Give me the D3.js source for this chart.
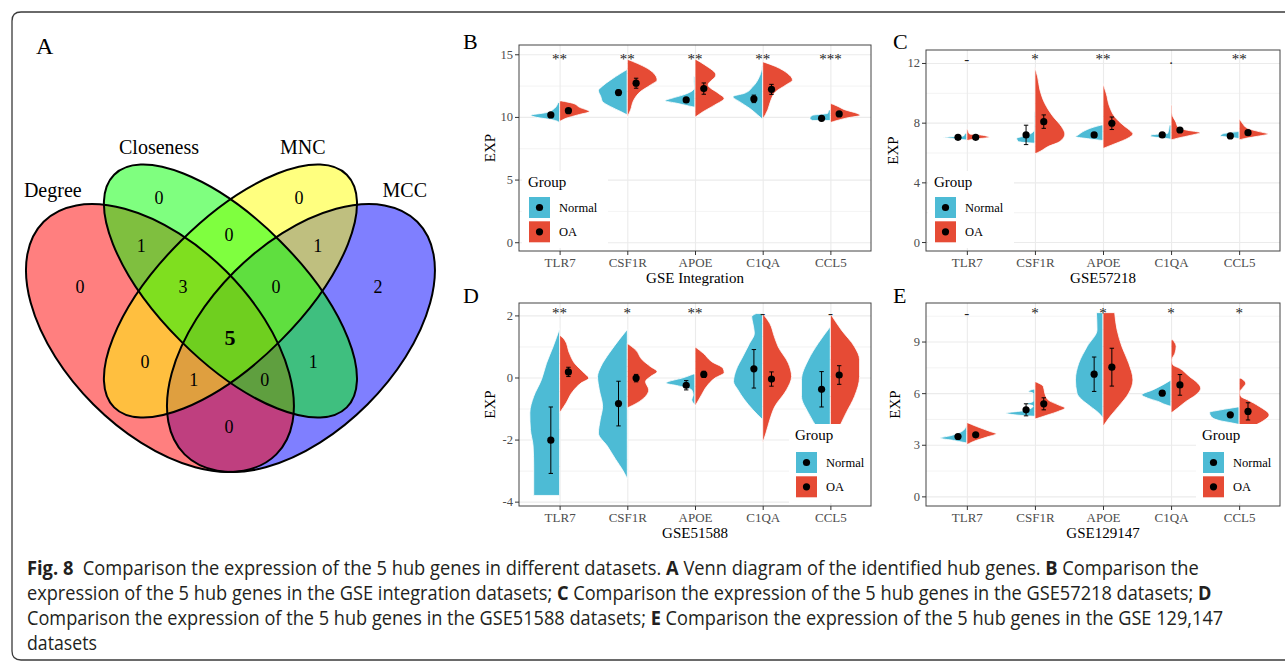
<!DOCTYPE html>
<html>
  <head>
    <meta charset="utf-8" />
    <title>Fig 8</title>
    <script src="https://cdn.jsdelivr.net/npm/d3@7/dist/d3.min.js"></script>
    <style>
      body { margin: 0; background: #fff; }
    </style>
  </head>
  <body>
    <div id="canvas"></div>
  </body>
  <script>
    const genes = ["TLR7", "CSF1R", "APOE", "C1QA", "CCL5"];
    const groups = ["Normal", "OA"];
    const groupColors = ["#4DBBD5", "#E64B35"];

    // ---- panel B : GSE Integration ----
    const bSig = ["**", "**", "**", "**", "***"];
    const bMeanN = [10.16, 11.94, 11.36, 11.44, 9.89];
    const bMeanO = [10.5, 12.69, 12.26, 12.2, 10.24];
    const bErrN = [0.08, 0.2, 0.15, 0.3, 0.05];
    const bErrO = [0.1, 0.4, 0.45, 0.4, 0.08];
    // half violin profiles: [EXP value, relative density]
    const bDensN = [
      [[11.14,0.06],[10.69,0.17],[10.35,0.44],[10.13,0.97],[9.97,0.78],[9.76,0.22],[9.55,0]],
      [[13.8,0],[13.48,0.22],[12.95,0.56],[12.47,0.83],[12.1,0.97],[11.62,0.89],[11.22,0.83],[10.82,0.56],[10.43,0.22],[10.16,0]],
      [[13.22,0.04],[12.82,0.04],[12.29,0.03],[12.15,0.06],[11.76,0.39],[11.49,0.78],[11.3,1.0],[11.09,0.61],[10.88,0.22],[10.77,0]],
      [[14.15,0.02],[13.22,0.11],[12.42,0.33],[11.89,0.61],[11.62,1.0],[11.22,0.78],[10.69,0.44],[10.16,0.17],[9.81,0]],
      [[10.56,0.06],[10.29,0.09],[10.13,0.6],[9.89,0.69],[9.71,0.6]]
    ];
    const bDensO = [
      [[11.28,0.06],[11.09,0.44],[10.77,0.67],[10.43,1.0],[10.16,0.61],[9.89,0.22],[9.63,0]],
      [[14.6,0],[14.28,0.33],[13.88,0.67],[13.48,0.89],[12.95,1.0],[12.55,0.78],[12.02,0.44],[11.36,0.22],[10.56,0.11],[9.97,0]],
      [[14.63,0],[14.15,0.33],[13.35,0.7],[12.55,0.44],[11.89,0.78],[11.49,0.98],[10.96,0.67],[10.43,0.28],[9.97,0]],
      [[14.41,0],[14.02,0.44],[13.48,0.83],[12.95,1.0],[12.55,0.78],[12.02,0.44],[11.36,0.28],[10.56,0.17],[9.81,0]],
      [[11.09,0],[10.88,0.22],[10.56,0.5],[10.29,0.89],[10.13,1.0],[9.92,0.56],[9.71,0.22],[9.55,0]]
    ];

    // ---- panel C : GSE57218 ----
    const cSig = ["-", "*", "**", ".", "**"];
    const cMeanN = [7.02, 7.18, 7.18, 7.18, 7.11];
    const cMeanO = [7.02, 8.07, 7.96, 7.51, 7.33];
    const cErrN = [0.05, 0.65, 0.15, 0.12, 0.05];
    const cErrO = [0.05, 0.45, 0.42, 0.1, 0.06];
    const cDensN = [
      [[7.29,0.06],[7.11,0.11],[7.02,0.78],[6.93,0.44],[6.84,0]],
      [[8.73,0.03],[7.51,0.03],[7.11,0.33],[6.96,0.61],[6.73,0.56],[6.62,0]],
      [[7.84,0.06],[7.69,0.33],[7.4,0.67],[7.18,0.83],[7.07,0.92],[6.91,0.44],[6.8,0]],
      [[7.84,0.06],[7.29,0.11],[7.18,0.67],[7.07,0.68],[6.96,0.22],[6.89,0]],
      [[7.4,0.06],[7.24,0.56],[7.11,0.63],[7.0,0.22],[6.93,0]]
    ];
    const cDensO = [
      [[7.56,0.03],[7.24,0.09],[7.18,0.45],[7.02,0.75],[6.89,0.22],[6.8,0]],
      [[11.69,0],[11.07,0.09],[10.18,0.17],[9.29,0.33],[8.4,0.61],[7.73,0.89],[7.24,1.0],[6.73,0.83],[6.4,0.44],[6.07,0.17],[5.91,0]],
      [[10.62,0],[9.96,0.11],[9.07,0.22],[8.4,0.39],[7.84,0.67],[7.4,0.94],[7.24,1.0],[6.96,0.83],[6.62,0.44],[6.36,0.11],[6.27,0]],
      [[9.18,0.03],[8.62,0.03],[8.0,0.17],[7.73,0.22],[7.51,0.5],[7.33,0.97],[7.16,0.67],[6.96,0.22],[6.84,0]],
      [[8.29,0],[7.96,0.11],[7.62,0.28],[7.4,0.67],[7.24,0.96],[7.07,0.56],[6.93,0.17],[6.84,0]]
    ];

    // ---- panel D : GSE51588 ----
    const dSig = ["**", "*", "**", "-", "-"];
    const dMeanN = [-2.02, -0.84, -0.25, 0.28, -0.38];
    const dMeanO = [0.18, -0.02, 0.1, -0.05, 0.08];
    const dErrN = [1.07, 0.72, 0.15, 0.62, 0.57];
    const dErrO = [0.15, 0.12, 0.1, 0.23, 0.3];
    const dDensN = [
      [[1.58,0],[0.99,0.22],[0.46,0.44],[-0.07,0.61],[-0.61,0.87],[-1.14,1.0],[-1.68,0.98],[-2.21,0.89],[-2.86,0.87],[-3.8,0.87]],
      [[1.55,0],[1.21,0.28],[0.78,0.61],[0.35,0.89],[0.03,1.0],[-0.4,0.94],[-0.93,0.83],[-1.36,0.91],[-1.79,0.97],[-2.21,0.67],[-2.64,0.39],[-2.96,0.17],[-3.26,0]],
      [[0.11,0.06],[-0.02,0.44],[-0.13,0.89],[-0.18,0.98],[-0.27,0.56],[-0.4,0.11],[-0.56,0.06],[-0.72,0.11],[-0.88,0]],
      [[2.06,0.22],[1.96,0.37],[1.74,0.33],[1.42,0.28],[1.1,0.44],[0.67,0.67],[0.25,0.89],[-0.13,0.98],[-0.4,0.83],[-0.72,0.61],[-1.04,0.33],[-1.36,0]],
      [[1.64,0],[1.1,0.41],[0.57,0.74],[-0.07,0.97],[-0.61,0.97],[-1.14,0.74],[-1.68,0.41],[-2.11,0.13],[-2.3,0]]
    ];
    const dDensO = [
      [[1.37,0],[1.21,0.17],[0.78,0.33],[0.46,0.5],[0.14,0.83],[-0.02,0.98],[-0.18,0.72],[-0.45,0.44],[-0.82,0.22],[-1.14,0]],
      [[1.1,0],[0.89,0.28],[0.57,0.5],[0.35,0.78],[0.19,1.0],[0.03,0.78],[-0.13,0.61],[-0.4,0.72],[-0.61,0.61],[-0.82,0.33],[-0.98,0]],
      [[0.99,0],[0.78,0.28],[0.51,0.56],[0.3,0.94],[0.16,0.98],[-0.02,0.67],[-0.29,0.39],[-0.56,0.22],[-0.93,0]],
      [[2.06,0],[1.74,0.24],[1.32,0.39],[0.99,0.52],[0.46,0.86],[0.03,0.97],[-0.4,0.8],[-0.93,0.41],[-1.36,0.24],[-1.79,0.11],[-2.11,0]],
      [[2.06,0],[1.53,0.37],[0.99,0.81],[0.57,0.98],[0.03,0.98],[-0.61,0.81],[-1.14,0.53],[-1.68,0.26],[-2.27,0]]
    ];

    // ---- panel E : GSE129147 ----
    const eSig = ["-", "*", "*", "*", "*"];
    const eMeanN = [3.48, 5.03, 7.1, 6.0, 4.74];
    const eMeanO = [3.58, 5.38, 7.51, 6.48, 4.94];
    const eErrN = [0.05, 0.35, 1.0, 0.15, 0.07];
    const eErrO = [0.07, 0.35, 1.1, 0.6, 0.5];
    const eDensN = [
      [[4.06,0.03],[3.77,0.17],[3.52,0.56],[3.39,0.89],[3.25,0.44],[3.1,0]],
      [[6.23,0.06],[6.1,0.22],[6.0,0.06],[5.52,0.06],[5.38,0.28],[5.26,0.06],[4.99,0.33],[4.84,0.97],[4.74,0.67],[4.65,0]],
      [[10.68,0.22],[9.68,0.2],[8.71,0.53],[7.74,0.81],[6.77,0.92],[6.0,0.87],[5.61,0.7],[5.23,0.42],[4.84,0.14],[4.55,0]],
      [[6.77,0],[6.48,0.28],[6.19,0.61],[5.9,0.98],[5.71,0.78],[5.52,0.44],[5.32,0.17],[5.23,0]],
      [[5.19,0.06],[5.03,0.61],[4.88,0.99],[4.65,0.94],[4.41,0.67],[4.26,0.22],[4.18,0]]
    ];
    const eDensO = [
      [[4.3,0],[4.06,0.33],[3.77,0.78],[3.64,0.98],[3.45,0.67],[3.19,0.22],[3.0,0]],
      [[6.68,0],[6.39,0.28],[6.0,0.33],[5.61,0.44],[5.32,0.78],[5.13,1.0],[4.94,0.78],[4.74,0.44],[4.49,0]],
      [[10.68,0.39],[9.68,0.47],[8.71,0.63],[7.74,0.86],[6.77,1.0],[6.0,0.86],[5.23,0.52],[4.65,0.24],[4.06,0]],
      [[9.1,0.06],[8.71,0.17],[8.32,0.13],[7.94,0.03],[7.65,0.06],[7.45,0.28],[6.97,0.61],[6.58,0.89],[6.29,0.99],[5.9,0.83],[5.52,0.5],[5.13,0.22],[4.84,0]],
      [[6.87,0.06],[6.58,0.22],[6.29,0.11],[6.1,0.03],[5.81,0.06],[5.61,0.28],[5.23,0.67],[4.74,1.0],[4.36,0.78],[4.06,0.44],[3.77,0]]
    ];

    // ---- panel A : venn ----
    const vennSets = ["Degree", "Closeness", "MNC", "MCC"];
    const vennColors = ["#FF0000", "#00FF00", "#FFFF00", "#0000FF"];
    // region counts and their anchor in the unit square used by VennDiagram
    const vennCounts = [0, 0, 0, 2, 1, 0, 1, 3, 0, 5, 0, 1, 0, 1, 0];
    const vennCountPos = [
      [0.18, 0.579], [0.348, 0.768], [0.646, 0.768], [0.814, 0.579],
      [0.31, 0.666], [0.497, 0.689], [0.686, 0.666], [0.399, 0.579],
      [0.597, 0.579], [0.499, 0.472], [0.318, 0.419], [0.422, 0.381],
      [0.573, 0.381], [0.676, 0.419], [0.497, 0.281]
    ];

    const captionLines = [
      [["Fig. 8", true], ["  Comparison the expression of the 5 hub genes in different datasets. ", false], ["A", true], [" Venn diagram of the identified hub genes. ", false], ["B", true], [" Comparison the", false]],
      [["expression of the 5 hub genes in the GSE integration datasets; ", false], ["C", true], [" Comparison the expression of the 5 hub genes in the GSE57218 datasets; ", false], ["D", true]],
      [["Comparison the expression of the 5 hub genes in the GSE51588 datasets; ", false], ["E", true], [" Comparison the expression of the 5 hub genes in the GSE 129,147", false]],
      [["datasets", false]]
    ];
    const captionWidths = [1172, 1185, 1197, 70];

    const serif = "'Liberation Serif', 'Times New Roman', serif";
    const width = 1285, height = 662;

    const svg = d3.select("#canvas").append("svg")
      .attr("width", width).attr("height", height)
      .attr("viewBox", [0, 0, width, height]);
    svg.append("rect").attr("width", width).attr("height", height).attr("fill", "#fff");

    // outer frame (open on the right)
    svg.append("path")
      .attr("d", "M1290,12 H21 Q12,12 12,21 V651 Q12,660 21,660 H1290")
      .attr("fill", "none").attr("stroke", "#3a3a3a").attr("stroke-width", 1.3);

    // ---------------- Venn ----------------
    function drawVenn() {
      const s = 470;
      const vx = d3.scaleLinear().domain([0, 1]).range([26 - 0.065 * s, 26 + 0.935 * s]);
      const vy = d3.scaleLinear().domain([0, 1]).range([472 + 0.185 * s, 472 - 0.815 * s]);
      const ell = [
        { cx: 0.35, cy: 0.47, a: 0.35, b: 0.2, rot: 45 },
        { cx: 0.5, cy: 0.57, a: 0.35, b: 0.15, rot: 45 },
        { cx: 0.5, cy: 0.57, a: 0.35, b: 0.15, rot: -45 },
        { cx: 0.65, cy: 0.47, a: 0.35, b: 0.2, rot: -45 }
      ];
      const g = svg.append("g");
      const order = [3, 0, 2, 1];
      g.selectAll("ellipse.fill")
        .data(order)
        .join("ellipse")
        .attr("class", "fill")
        .attr("cx", (i) => vx(ell[i].cx))
        .attr("cy", (i) => vy(ell[i].cy))
        .attr("rx", (i) => ell[i].a * s)
        .attr("ry", (i) => ell[i].b * s)
        .attr("transform", (i) => `rotate(${ell[i].rot},${vx(ell[i].cx)},${vy(ell[i].cy)})`)
        .attr("fill", (i) => vennColors[i])
        .attr("fill-opacity", 0.5);
      g.selectAll("ellipse.line")
        .data(order)
        .join("ellipse")
        .attr("class", "line")
        .attr("cx", (i) => vx(ell[i].cx))
        .attr("cy", (i) => vy(ell[i].cy))
        .attr("rx", (i) => ell[i].a * s)
        .attr("ry", (i) => ell[i].b * s)
        .attr("transform", (i) => `rotate(${ell[i].rot},${vx(ell[i].cx)},${vy(ell[i].cy)})`)
        .attr("fill", "none")
        .attr("stroke", "#000")
        .attr("stroke-width", 2);

      g.selectAll("text.count")
        .data(vennCounts)
        .join("text")
        .attr("class", "count")
        .attr("x", (d, i) => vx(vennCountPos[i][0]))
        .attr("y", (d, i) => vy(vennCountPos[i][1]))
        .attr("dy", "0.35em")
        .attr("text-anchor", "middle")
        .attr("font-family", serif)
        .attr("font-size", (d) => (d === 5 ? 22 : 18))
        .attr("font-weight", (d) => (d === 5 ? "bold" : "normal"))
        .text((d) => d);

      const namePos = [[0.122, 0.785], [0.348, 0.876], [0.654, 0.876], [0.871, 0.785]];
      g.selectAll("text.name")
        .data(vennSets)
        .join("text")
        .attr("class", "name")
        .attr("x", (d, i) => vx(namePos[i][0]))
        .attr("y", (d, i) => vy(namePos[i][1]))
        .attr("dy", "0.35em")
        .attr("text-anchor", "middle")
        .attr("font-family", serif)
        .attr("font-size", 20)
        .text((d) => d);

      svg.append("text").attr("x", 36).attr("y", 54)
        .attr("font-family", serif).attr("font-size", 24).text("A");
    }
    drawVenn();

    // ---------------- split violin panels ----------------
    const panels = [
      { letter: "B", letterPos: [463, 49], title: "GSE Integration", left: 519, right: 871, top: 45, bottom: 251,
        domain: [-0.7, 15.74], ticks: [0, 5, 10, 15], minor: [2.5, 7.5, 12.5],
        sig: bSig, meanN: bMeanN, meanO: bMeanO, errN: bErrN, errO: bErrO, densN: bDensN, densO: bDensO,
        expX: 490, sigY: 64, legend: { x: 529, titleY: 187, keyTop: 197 } },
      { letter: "C", letterPos: [893, 49], title: "GSE57218", left: 926, right: 1280, top: 50, bottom: 251,
        domain: [-0.6, 12.87], ticks: [0, 4, 8, 12], minor: [2, 6, 10],
        sig: cSig, meanN: cMeanN, meanO: cMeanO, errN: cErrN, errO: cErrO, densN: cDensN, densO: cDensO,
        expX: 893, sigY: 64, legend: { x: 935, titleY: 187, keyTop: 197 } },
      { letter: "D", letterPos: [463, 303], title: "GSE51588", left: 519, right: 871, top: 303, bottom: 506,
        domain: [-4.14, 2.4], ticks: [-4, -2, 0, 2], minor: [-3, -1, 1],
        sig: dSig, meanN: dMeanN, meanO: dMeanO, errN: dErrN, errO: dErrO, densN: dDensN, densO: dDensO,
        expX: 490, sigY: 318, legend: { x: 796, titleY: 440, keyTop: 452 } },
      { letter: "E", letterPos: [893, 303], title: "GSE129147", left: 926, right: 1280, top: 303, bottom: 506,
        domain: [-0.56, 11.24], ticks: [0, 3, 6, 9], minor: [1.5, 4.5, 7.5, 10.5],
        sig: eSig, meanN: eMeanN, meanO: eMeanO, errN: eErrN, errO: eErrO, densN: eDensN, densO: eDensO,
        expX: 895, sigY: 318, legend: { x: 1203, titleY: 440, keyTop: 452 } }
    ];

    function drawPanel(p) {
      const g = svg.append("g");
      const x = d3.scalePoint().domain(genes).range([p.left, p.right]).padding(0.6);
      const y = d3.scaleLinear().domain(p.domain).range([p.bottom, p.top]);
      const step = x.step();
      const halfW = 0.44 * step;
      const dodge = 0.13 * step;
      const w = p.right - p.left, h = p.bottom - p.top;

      g.append("rect").attr("x", p.left).attr("y", p.top).attr("width", w).attr("height", h).attr("fill", "#fff");

      // grid
      const gridStyle = (sel, sw) => {
        sel.select(".domain").remove();
        sel.selectAll("line").attr("stroke", "#EBEBEB").attr("stroke-width", sw);
      };
      g.append("g").attr("transform", `translate(${p.left},0)`)
        .call(d3.axisLeft(y).tickValues(p.minor).tickSize(-w).tickFormat(""))
        .call((a) => gridStyle(a, 0.6));
      g.append("g").attr("transform", `translate(${p.left},0)`)
        .call(d3.axisLeft(y).tickValues(p.ticks).tickSize(-w).tickFormat(""))
        .call((a) => gridStyle(a, 1.1));
      g.append("g").attr("transform", `translate(0,${p.bottom})`)
        .call(d3.axisBottom(x).tickSize(-h).tickFormat(""))
        .call((a) => gridStyle(a, 1.1));

      // half violins
      const halves = [
        { dens: p.densN, side: -1, color: groupColors[0] },
        { dens: p.densO, side: 1, color: groupColors[1] }
      ];
      halves.forEach((hv) => {
        g.append("g")
          .selectAll("path")
          .data(hv.dens)
          .join("path")
          .attr("d", (prof, i) => {
            const cx = x(genes[i]);
            return d3.area()
              .curve(d3.curveMonotoneY)
              .y((d) => y(d[0]))
              .x0(cx)
              .x1((d) => cx + hv.side * d[1] * halfW)(prof);
          })
          .attr("fill", hv.color)
          .attr("stroke", "#fff")
          .attr("stroke-width", 0.8);
      });

      // mean +/- error
      const stats = [
        { mean: p.meanN, err: p.errN, off: -dodge },
        { mean: p.meanO, err: p.errO, off: dodge }
      ];
      stats.forEach((st) => {
        const sg = g.append("g");
        const cxs = genes.map((gn) => x(gn) + st.off);
        sg.selectAll("line.bar").data(st.mean).join("line").attr("class", "bar")
          .attr("x1", (d, i) => cxs[i]).attr("x2", (d, i) => cxs[i])
          .attr("y1", (d, i) => y(d - st.err[i])).attr("y2", (d, i) => y(d + st.err[i]))
          .attr("stroke", "#000").attr("stroke-width", 1);
        ["-", "+"].forEach((sgn) => {
          sg.selectAll("line.cap" + (sgn === "-" ? "lo" : "hi")).data(st.mean).join("line")
            .attr("class", "cap" + (sgn === "-" ? "lo" : "hi"))
            .attr("x1", (d, i) => cxs[i] - 2.2).attr("x2", (d, i) => cxs[i] + 2.2)
            .attr("y1", (d, i) => y(sgn === "-" ? d - st.err[i] : d + st.err[i]))
            .attr("y2", (d, i) => y(sgn === "-" ? d - st.err[i] : d + st.err[i]))
            .attr("stroke", "#000").attr("stroke-width", 1);
        });
        sg.selectAll("circle").data(st.mean).join("circle")
          .attr("cx", (d, i) => cxs[i]).attr("cy", (d) => y(d)).attr("r", 3.6).attr("fill", "#000");
      });

      // significance labels
      g.append("g").selectAll("text").data(p.sig).join("text")
        .attr("x", (d, i) => x(genes[i]))
        .attr("y", p.sigY)
        .attr("text-anchor", "middle")
        .attr("font-family", serif)
        .attr("font-size", 15)
        .attr("fill", "#222")
        .text((d) => d);

      // legend (inside panel)
      const lg = g.append("g");
      const L = p.legend;
      lg.append("rect").attr("x", L.x - 7).attr("y", L.titleY - 16)
        .attr("width", 86).attr("height", L.keyTop + 48 - (L.titleY - 16) + 3).attr("fill", "#fff");
      lg.append("text").attr("x", L.x - 1).attr("y", L.titleY)
        .attr("font-family", serif).attr("font-size", 15).text("Group");
      groups.forEach((gr, i) => {
        const ky = L.keyTop + i * 24.3;
        lg.append("rect").attr("x", L.x).attr("y", ky).attr("width", 21).attr("height", 21)
          .attr("fill", groupColors[i]);
        lg.append("circle").attr("cx", L.x + 10.5).attr("cy", ky + 10.5).attr("r", 3.6).attr("fill", "#000");
        lg.append("text").attr("x", L.x + 30).attr("y", ky + 10.5).attr("dy", "0.35em")
          .attr("font-family", serif).attr("font-size", 12.5).text(gr);
      });

      // border
      g.append("rect").attr("x", p.left).attr("y", p.top).attr("width", w).attr("height", h)
        .attr("fill", "none").attr("stroke", "#444").attr("stroke-width", 1);

      // axes
      const styleAxis = (fs) => (a) => {
        a.select(".domain").remove();
        a.selectAll("line").attr("stroke", "#333");
        a.selectAll("text").attr("fill", "#4D4D4D").attr("font-size", fs).attr("font-family", serif);
        a.attr("font-family", serif);
      };
      g.append("g").attr("transform", `translate(${p.left},0)`)
        .call(d3.axisLeft(y).tickValues(p.ticks).tickSize(4).tickPadding(2).tickFormat((d) => String(d)))
        .call(styleAxis(12.5));
      g.append("g").attr("transform", `translate(0,${p.bottom})`)
        .call(d3.axisBottom(x).tickSize(4).tickPadding(3))
        .call(styleAxis(13));

      g.append("text").attr("x", (p.left + p.right) / 2).attr("y", p.bottom + 32)
        .attr("text-anchor", "middle").attr("font-family", serif).attr("font-size", 15).text(p.title);
      g.append("text").attr("transform", `translate(${p.expX},${(p.top + p.bottom) / 2}) rotate(-90)`)
        .attr("dy", "0.35em").attr("text-anchor", "middle")
        .attr("font-family", serif).attr("font-size", 15).text("EXP");

      svg.append("text").attr("x", p.letterPos[0]).attr("y", p.letterPos[1])
        .attr("font-family", serif).attr("font-size", 22).text(p.letter);
    }
    panels.forEach(drawPanel);

    // ---------------- caption ----------------
    const capY = [575, 600, 625, 650];
    captionLines.forEach((line, li) => {
      const cg = svg.append("g").attr("transform", `translate(27,${capY[li]})`);
      const t = cg.append("text")
        .attr("font-family", "'Open Sans', 'Noto Sans', sans-serif")
        .attr("font-size", 20)
        .attr("fill", "#231F20")
        .style("white-space", "pre");
      line.forEach(([txt, bold]) => {
        t.append("tspan").attr("font-weight", bold ? "bold" : "normal").text(txt);
      });
      const natural = t.node().getComputedTextLength();
      const sx = captionWidths[li] / natural;
      t.attr("transform", `scale(${sx},1)`);
    });
  </script>
</html>
